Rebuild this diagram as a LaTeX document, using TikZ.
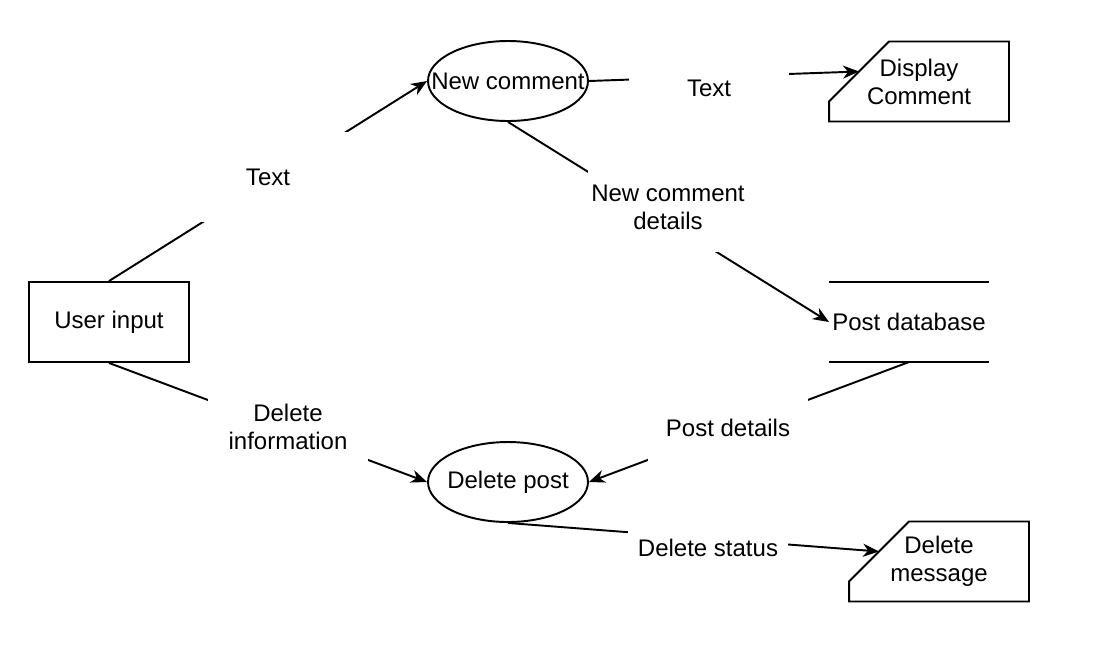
\documentclass[tikz,border=0pt]{standalone}
\usepackage{fontspec}
\setmainfont{Liberation Sans}
\usetikzlibrary{shapes.geometric,arrows.meta}
\tikzset{
  proc/.style={draw, ellipse, minimum width=3.2cm, minimum height=1.6cm, inner sep=0pt},
  ent/.style={draw, rectangle, minimum width=3.2cm, minimum height=1.6cm},
  store/.style={rectangle, minimum width=3.2cm, minimum height=1.6cm, inner sep=0pt, outer sep=0pt},
  outcard/.style={rectangle, minimum width=3.6cm, minimum height=1.6cm, outer sep=0pt, align=center},
  lbl/.style={fill=white, rectangle, minimum width=3.2cm, minimum height=1.8cm, inner sep=0pt, align=center},
  flow/.style={line width=1.1pt, -{Stealth[length=3.2mm,width=2.6mm,inset=1mm]}}
}

\begin{document}
\begin{tikzpicture}[x=0.02cm, y=-0.02cm, line width=1.1pt, font=\fontsize{13.66}{15.94}\selectfont]
            \useasboundingbox (0,0) rectangle (1114,650);
            % 
            \node[ent] (user) at (109,322) {User input};
            \node[proc] (newc) at (508,81) {\makebox[0pt]{New comment}};
            \node[proc] (delp) at (508,482) {\makebox[0pt]{Delete post}};
            \node[store] (db) at (909,322) {Post database};
            \node[outcard] (disp) at (919,81.5) {Display\\Comment};
            \node[outcard] (delm) at (939,561.5) {Delete\\message};
            
            % shapes
            \draw (db.north west) -- (db.north east);
            \draw (db.south west) -- (db.south east);
            \draw (disp.south west) -- ++(0,-20) -- ++(60,-60) -- (disp.north east) -- (disp.south east) -- cycle;
            \draw (delm.south west) -- ++(0,-20) -- ++(60,-60) -- (delm.north east) -- (delm.south east) -- cycle;
            \coordinate (dispin) at ([shift={(30,-50)}]disp.south west);
            \coordinate (delmin) at ([shift={(30,-50)}]delm.south west);
            
            % Flows
            \draw[flow] (user.north) -- (newc.west);
            \draw[flow] (newc.east) -- (dispin);
            \draw[flow] (newc.south) -- (db.west);
            \draw[flow] (db.south) -- (delp.east);
            \draw[flow] (user.south) -- (delp.west);
            \draw[flow] (delp.south) -- (delmin);
            
            % labels
            \node[lbl] (ltext) at (268,177) {Text};
            \node[lbl] (lshow) at (709,88) {Text};
            \node[lbl] (lnew) at (668,207) {New comment\\details};
            \node[lbl] (lpost) at (728,428) {Post details};
            \node[lbl] (ldel) at (288,427) {Delete\\information};
            \node[lbl] (lstat) at (708,548) {Delete status};
\end{tikzpicture}
\end{document}
